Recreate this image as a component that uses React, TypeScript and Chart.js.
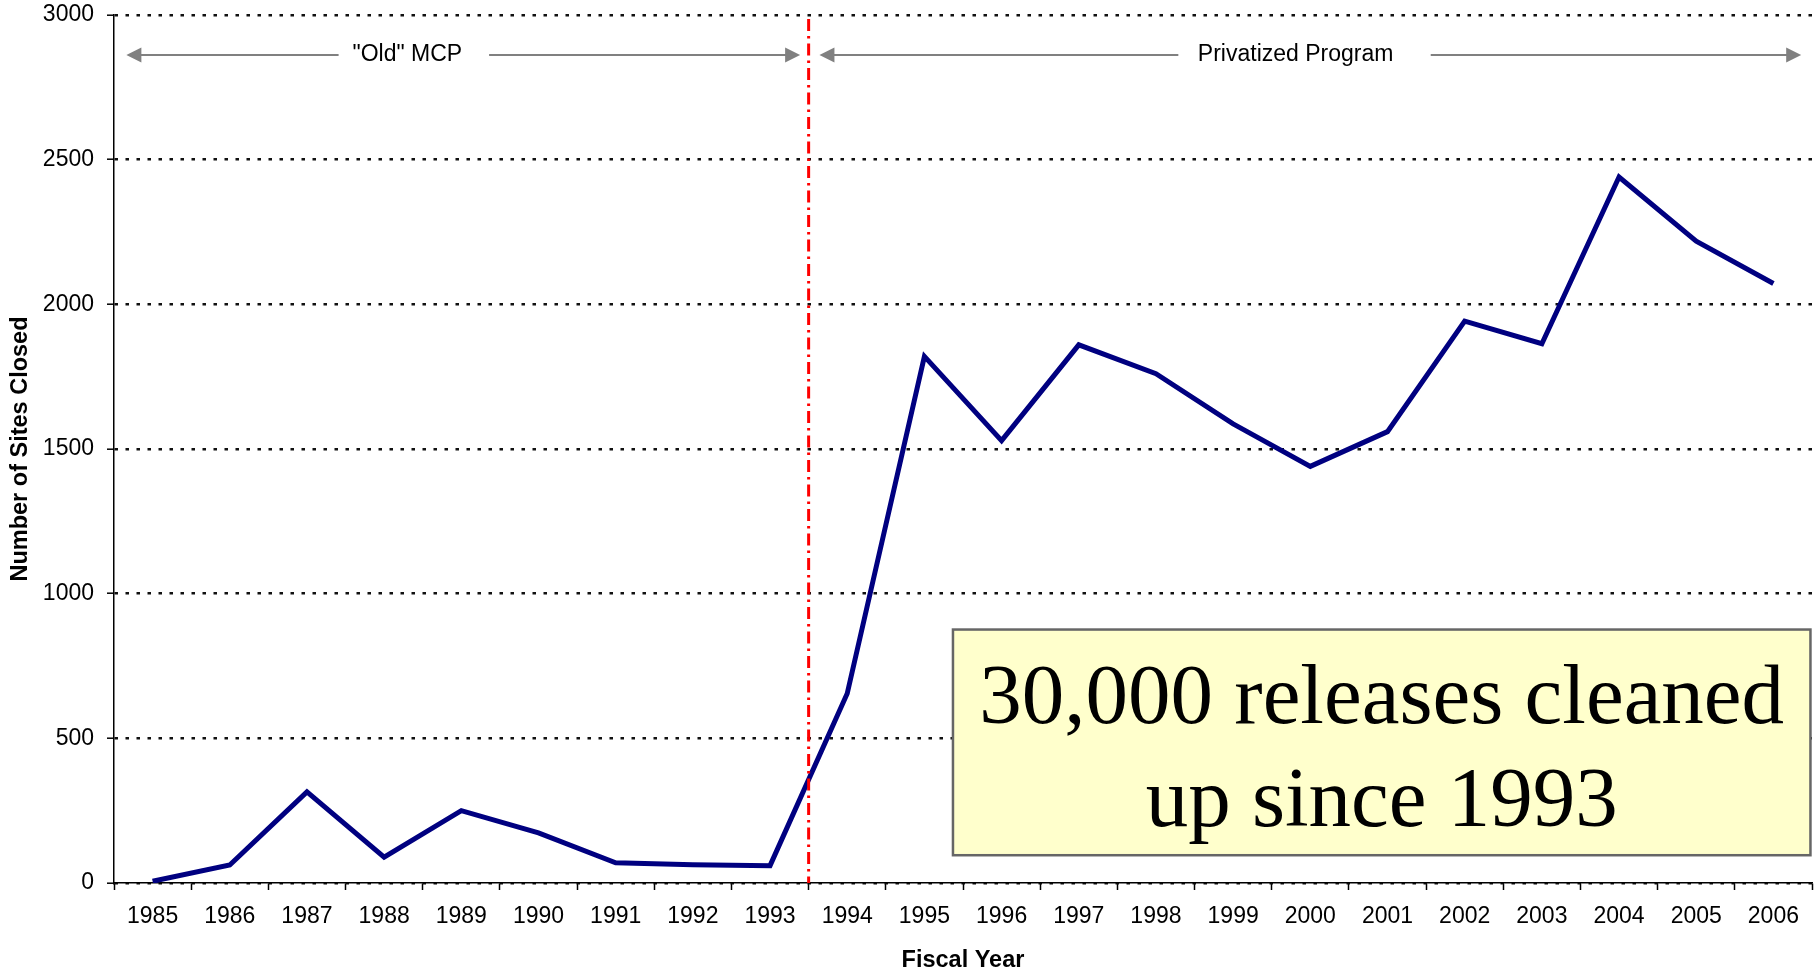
import React, { useEffect, useRef } from 'react';
import { Chart, registerables } from 'chart.js';

Chart.register(...registerables);

// ---- data ----
const years = ['1985', '1986', '1987', '1988', '1989', '1990', '1991', '1992', '1993', '1994', '1995',
  '1996', '1997', '1998', '1999', '2000', '2001', '2002', '2003', '2004', '2005', '2006'];
const sitesClosed = [6, 62, 315, 89, 250, 173, 70, 63, 60, 655, 1820, 1529, 1860, 1760, 1587, 1440,
  1560, 1942, 1864, 2440, 2218, 2072];
const yTickValues = [0, 500, 1000, 1500, 2000, 2500, 3000];
const eraLabels = ['"Old" MCP', 'Privatized Program'];
const calloutLines = ['30,000 releases cleaned', 'up since 1993'];
const xTitle = 'Fiscal Year';
const yTitle = 'Number of Sites Closed';

// ---- annotation geometry (category index / value units) ----
const arrowValue = 2862;
const oldEra = { from: -0.34, to: 8.39, gapFrom: 2.41, gapTo: 4.36, textAt: 3.3 };
const newEra = { from: 8.64, to: 21.36, gapFrom: 13.29, gapTo: 16.56, textAt: 14.81 };
const dividerIndex = 8.5;
const calloutBox = { x0: 10.37, x1: 21.48, yTop: 876, yBottom: 96 };

const SANS = '"Liberation Sans", Arial, Helvetica, sans-serif';
const SERIF = '"Liberation Serif", "Times New Roman", serif';

const annotations = {
  id: 'annotations',
  afterDatasetsDraw(chart: any) {
    const ctx = chart.ctx;
    const xs = chart.scales.x;
    const ys = chart.scales.y;
    const area = chart.chartArea;
    const px = (i: number) => xs.getPixelForValue(i);
    const py = (v: number) => ys.getPixelForValue(v);

    ctx.save();
    // divider line
    const dx = px(dividerIndex);
    ctx.strokeStyle = '#FF0000';
    ctx.lineWidth = 3;
    ctx.setLineDash([12, 5, 2.5, 5]);
    ctx.beginPath();
    ctx.moveTo(dx, area.top + 4);
    ctx.lineTo(dx, area.bottom);
    ctx.stroke();
    ctx.setLineDash([]);

    // arrows
    const ay = py(arrowValue);
    const head = (tipX: number, dir: number) => {
      ctx.beginPath();
      ctx.moveTo(tipX, ay);
      ctx.lineTo(tipX - dir * 15, ay - 7.5);
      ctx.lineTo(tipX - dir * 15, ay + 7.5);
      ctx.closePath();
      ctx.fill();
    };
    ctx.strokeStyle = '#808080';
    ctx.fillStyle = '#808080';
    ctx.lineWidth = 2;
    [oldEra, newEra].forEach((era) => {
      ctx.beginPath();
      ctx.moveTo(px(era.from) + 10, ay);
      ctx.lineTo(px(era.gapFrom), ay);
      ctx.moveTo(px(era.gapTo), ay);
      ctx.lineTo(px(era.to) - 10, ay);
      ctx.stroke();
      head(px(era.from), -1);
      head(px(era.to), 1);
    });
    ctx.fillStyle = '#000';
    ctx.font = `23px ${SANS}`;
    ctx.textAlign = 'center';
    ctx.textBaseline = 'middle';
    ctx.fillText(eraLabels[0], px(oldEra.textAt), ay);
    ctx.fillText(eraLabels[1], px(newEra.textAt), ay);

    // callout box
    const bx0 = px(calloutBox.x0);
    const bx1 = px(calloutBox.x1);
    const by0 = py(calloutBox.yTop);
    const by1 = py(calloutBox.yBottom);
    ctx.fillStyle = '#FFFFCC';
    ctx.fillRect(bx0, by0, bx1 - bx0, by1 - by0);
    ctx.strokeStyle = '#666666';
    ctx.lineWidth = 2.5;
    ctx.strokeRect(bx0, by0, bx1 - bx0, by1 - by0);
    ctx.fillStyle = '#000';
    ctx.font = `85px ${SERIF}`;
    ctx.textAlign = 'center';
    ctx.textBaseline = 'alphabetic';
    const cx = (bx0 + bx1) / 2;
    calloutLines.forEach((t, i) => {
      ctx.fillText(t, cx, by0 + 93 + i * 103);
    });
    ctx.restore();
  },
};

export default function App() {
  const canvasRef = useRef<HTMLCanvasElement | null>(null);

  useEffect(() => {
    document.body.style.margin = '0';
    const canvas = canvasRef.current;
    if (!canvas) return;
    const chart = new Chart(canvas, {
      type: 'line',
      data: {
        labels: years,
        datasets: [
          {
            data: sitesClosed,
            borderColor: '#000080',
            backgroundColor: '#000080',
            borderWidth: 5,
            pointRadius: 0,
            tension: 0,
            fill: false,
            borderJoinStyle: 'miter',
          },
        ],
      },
      options: {
        animation: false,
        responsive: true,
        maintainAspectRatio: false,
        layout: { padding: { left: 0, top: 15, right: 5, bottom: 0 } },
        plugins: {
          legend: { display: false },
          tooltip: { enabled: false },
        },
        scales: {
          x: {
            type: 'category',
            offset: true,
            grid: {
              offset: true,
              drawOnChartArea: false,
              drawTicks: true,
              tickLength: 7,
              tickColor: '#000',
              tickWidth: 1.5,
            },
            border: { display: true, color: '#000', width: 1.5 },
            ticks: {
              color: '#000',
              font: { family: SANS, size: 23 },
              padding: 13,
              maxRotation: 0,
              autoSkip: false,
            },
            title: {
              display: true,
              text: xTitle,
              color: '#000',
              font: { family: SANS, size: 23.5, weight: 'bold', lineHeight: 0.8 },
              padding: { top: 0, bottom: 0 },
            },
            afterFit(scale: any) {
              scale.height = 87;
              scale.paddingLeft = 0;
              scale.paddingRight = 0;
            },
          },
          y: {
            min: 0,
            max: 3000,
            afterBuildTicks(scale: any) {
              scale.ticks = yTickValues.map((v) => ({ value: v }));
            },
            grid: {
              color: '#111',
              lineWidth: 2.4,
              drawTicks: true,
              tickLength: 7,
              tickColor: '#000',
              tickWidth: 1.5,
              tickBorderDash: [],
            },
            border: { display: true, color: '#000', width: 1.5, dash: [3.5, 7.5] },
            ticks: {
              color: '#000',
              font: { family: SANS, size: 23 },
              padding: 13,
              callback: (v: any) => String(v),
            },
            title: {
              display: true,
              text: yTitle,
              color: '#000',
              font: { family: SANS, size: 23.5, weight: 'bold' },
              padding: { top: 6, bottom: 0 },
            },
            afterFit(scale: any) {
              scale.width = 114;
              scale.paddingTop = 0;
              scale.paddingBottom = 0;
            },
          },
        },
      },
      plugins: [annotations],
    });
    return () => chart.destroy();
  }, []);

  return (
    <div style={{ position: 'fixed', left: 0, top: 0, width: '1817px', height: '970px', background: '#fff' }}>
      <canvas ref={canvasRef} />
    </div>
  );
}
